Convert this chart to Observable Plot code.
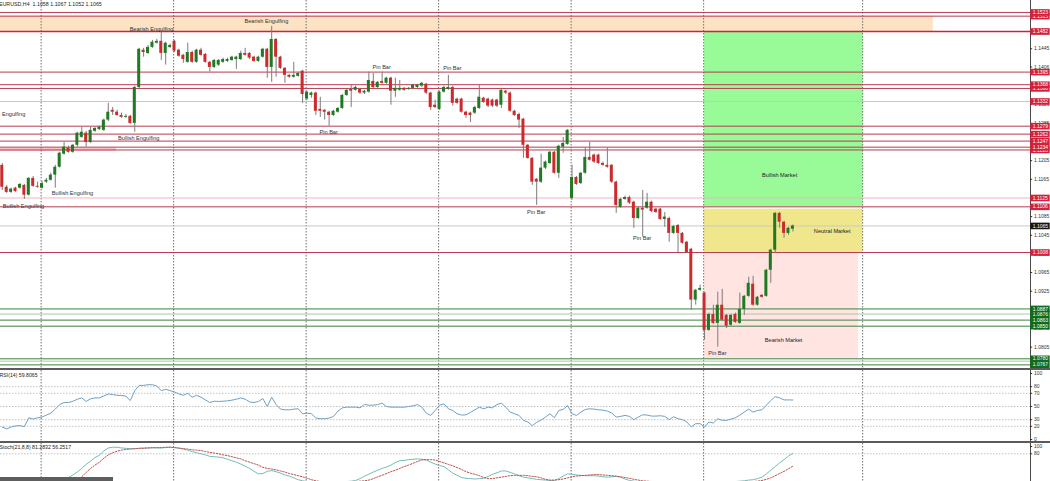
<!DOCTYPE html>
<html><head><meta charset="utf-8">
<script src="https://cdn.jsdelivr.net/npm/d3@7"></script>
<script src="https://cdn.jsdelivr.net/npm/@observablehq/plot@0.6"></script>
<style>
html,body{margin:0;padding:0;background:#fff;overflow:hidden}
#wrap{position:relative;width:1050px;height:481px;overflow:hidden;background:#fff}
.sep{height:2px;width:1050px;background:#5a5a5a}
svg{display:block;overflow:hidden}
#tab{position:absolute;left:0;top:477px;width:113px;height:4px;background:#5e5e5e}
</style></head><body><div id="wrap"></div>
<script>
// ---------- candle data (EURUSD H4) ----------
const openP = [
1.1195,1.1148,1.1137,1.1146,1.1146,1.1152,1.1131,1.1167,1.1150,1.1146,
1.1159,1.1163,1.1174,1.1191,1.1219,1.1232,1.1223,1.1238,1.1255,1.1264,
1.1244,1.1268,1.1272,1.1270,1.1292,1.1313,1.1309,1.1302,1.1298,1.1300,
1.1285,1.1362,1.1442,1.1435,1.1448,1.1457,1.1461,1.1435,1.1448,1.1461,
1.1442,1.1431,1.1416,1.1437,1.1416,1.1442,1.1433,1.1416,1.1405,1.1410,
1.1416,1.1418,1.1420,1.1422,1.1422,1.1435,1.1435,1.1427,1.1418,1.1427,
1.1444,1.1405,1.1465,1.1427,1.1403,1.1388,1.1384,1.1386,1.1397,1.1337,
1.1345,1.1350,1.1315,1.1313,1.1309,1.1302,1.1309,1.1317,1.1345,1.1358,
1.1356,1.1358,1.1350,1.1352,1.1375,1.1362,1.1375,1.1371,1.1382,1.1354,
1.1356,1.1360,1.1358,1.1360,1.1362,1.1365,1.1369,1.1350,1.1324,1.1315,
1.1352,1.1358,1.1362,1.1337,1.1337,1.1309,1.1307,1.1307,1.1317,1.1339,
1.1337,1.1335,1.1335,1.1324,1.1354,1.1350,1.1311,1.1304,1.1294,1.1238,
1.1210,1.1165,1.1159,1.1189,1.1199,1.1223,1.1178,1.1234,1.1240,1.1124,
1.1169,1.1156,1.1178,1.1212,1.1217,1.1217,1.1199,1.1195,1.1195,1.1159,
1.1105,1.1122,1.1126,1.1116,1.1081,1.1103,1.1103,1.1116,1.1101,1.1101,
1.1079,1.1081,1.1049,1.1066,1.1049,1.1030,1.1015,1.0906,1.0927,1.0921,
1.0841,1.0875,1.0856,1.0895,1.0873,1.0852,1.0875,1.0856,1.0886,1.0914,
1.0940,1.0895,1.0916,1.0914,1.0970,1.1013,1.1092,1.1073,1.1049,1.1058];
const highP = [
1.1199,1.1152,1.1146,1.1148,1.1156,1.1154,1.1169,1.1171,1.1159,1.1161,
1.1167,1.1178,1.1195,1.1223,1.1244,1.1236,1.1240,1.1266,1.1277,1.1268,
1.1277,1.1277,1.1279,1.1294,1.1328,1.1319,1.1313,1.1307,1.1304,1.1302,
1.1365,1.1446,1.1446,1.1452,1.1463,1.1465,1.1480,1.1459,1.1455,1.1463,
1.1444,1.1433,1.1457,1.1440,1.1444,1.1446,1.1435,1.1418,1.1422,1.1422,
1.1425,1.1425,1.1429,1.1429,1.1440,1.1446,1.1437,1.1429,1.1429,1.1446,
1.1446,1.1493,1.1467,1.1429,1.1405,1.1390,1.1416,1.1395,1.1399,1.1354,
1.1352,1.1352,1.1341,1.1315,1.1311,1.1313,1.1319,1.1347,1.1358,1.1367,
1.1365,1.1360,1.1356,1.1395,1.1392,1.1375,1.1395,1.1384,1.1384,1.1382,
1.1377,1.1362,1.1362,1.1369,1.1369,1.1373,1.1371,1.1352,1.1335,1.1354,
1.1365,1.1388,1.1365,1.1339,1.1339,1.1311,1.1309,1.1322,1.1367,1.1341,
1.1339,1.1337,1.1337,1.1358,1.1356,1.1352,1.1313,1.1307,1.1296,1.1240,
1.1212,1.1167,1.1219,1.1204,1.1225,1.1225,1.1238,1.1255,1.1272,1.1195,
1.1171,1.1180,1.1232,1.1244,1.1219,1.1219,1.1202,1.1232,1.1197,1.1161,
1.1124,1.1129,1.1129,1.1118,1.1105,1.1141,1.1135,1.1118,1.1103,1.1103,
1.1094,1.1084,1.1066,1.1068,1.1051,1.1032,1.1017,1.0929,1.0938,1.0923,
1.0878,1.0895,1.0923,1.0929,1.0875,1.0875,1.0878,1.0921,1.0916,1.0955,
1.0957,1.0914,1.0918,1.0972,1.1015,1.1094,1.1094,1.1075,1.1062,1.1067];
const lowP = [
1.1141,1.1135,1.1135,1.1137,1.1144,1.1122,1.1129,1.1148,1.1146,1.1144,
1.1156,1.1161,1.1146,1.1189,1.1217,1.1221,1.1221,1.1234,1.1253,1.1234,
1.1242,1.1266,1.1270,1.1268,1.1289,1.1302,1.1300,1.1296,1.1296,1.1283,
1.1266,1.1360,1.1427,1.1433,1.1446,1.1455,1.1420,1.1410,1.1446,1.1437,
1.1427,1.1414,1.1414,1.1414,1.1414,1.1429,1.1414,1.1395,1.1403,1.1407,
1.1414,1.1416,1.1418,1.1401,1.1420,1.1429,1.1422,1.1416,1.1416,1.1425,
1.1382,1.1373,1.1384,1.1401,1.1371,1.1382,1.1382,1.1384,1.1328,1.1335,
1.1339,1.1302,1.1298,1.1292,1.1279,1.1300,1.1307,1.1315,1.1343,1.1319,
1.1354,1.1347,1.1347,1.1350,1.1360,1.1360,1.1369,1.1369,1.1324,1.1341,
1.1354,1.1354,1.1356,1.1358,1.1360,1.1362,1.1347,1.1313,1.1317,1.1313,
1.1350,1.1356,1.1322,1.1326,1.1307,1.1296,1.1287,1.1304,1.1315,1.1328,
1.1319,1.1319,1.1319,1.1317,1.1347,1.1309,1.1300,1.1274,1.1210,1.1208,
1.1152,1.1109,1.1156,1.1186,1.1197,1.1176,1.1167,1.1221,1.1238,1.1120,
1.1152,1.1154,1.1176,1.1204,1.1199,1.1197,1.1193,1.1189,1.1156,1.1092,
1.1103,1.1120,1.1111,1.1060,1.1079,1.1041,1.1101,1.1094,1.1092,1.1077,
1.1062,1.1030,1.1047,1.1008,1.1026,1.1006,1.0884,1.0895,1.0925,1.0820,
1.0839,1.0854,1.0805,1.0860,1.0845,1.0850,1.0856,1.0854,1.0873,1.0912,
1.0893,1.0893,1.0910,1.0912,1.0942,1.1006,1.1060,1.1039,1.1045,1.1052];
const closeP = [
1.1148,1.1137,1.1144,1.1139,1.1154,1.1131,1.1167,1.1150,1.1148,1.1156,
1.1163,1.1174,1.1191,1.1221,1.1234,1.1223,1.1238,1.1264,1.1266,1.1244,
1.1270,1.1274,1.1277,1.1292,1.1309,1.1309,1.1302,1.1298,1.1300,1.1285,
1.1362,1.1444,1.1437,1.1448,1.1459,1.1461,1.1435,1.1457,1.1452,1.1440,
1.1429,1.1422,1.1437,1.1416,1.1442,1.1431,1.1416,1.1405,1.1420,1.1420,
1.1422,1.1422,1.1427,1.1427,1.1435,1.1431,1.1425,1.1418,1.1427,1.1444,
1.1405,1.1465,1.1427,1.1403,1.1388,1.1384,1.1388,1.1392,1.1347,1.1352,
1.1350,1.1311,1.1311,1.1309,1.1302,1.1311,1.1317,1.1345,1.1356,1.1354,
1.1362,1.1350,1.1354,1.1377,1.1362,1.1373,1.1371,1.1382,1.1354,1.1360,
1.1360,1.1356,1.1360,1.1367,1.1367,1.1371,1.1350,1.1319,1.1319,1.1352,
1.1362,1.1362,1.1328,1.1328,1.1309,1.1302,1.1302,1.1319,1.1341,1.1330,
1.1322,1.1322,1.1322,1.1356,1.1350,1.1311,1.1302,1.1292,1.1238,1.1210,
1.1159,1.1159,1.1189,1.1202,1.1223,1.1178,1.1236,1.1242,1.1270,1.1169,
1.1154,1.1178,1.1212,1.1206,1.1202,1.1199,1.1195,1.1191,1.1159,1.1109,
1.1122,1.1126,1.1114,1.1081,1.1103,1.1099,1.1116,1.1096,1.1094,1.1079,
1.1084,1.1049,1.1064,1.1049,1.1028,1.1008,1.0906,1.0927,1.0931,1.0841,
1.0875,1.0856,1.0895,1.0863,1.0850,1.0873,1.0858,1.0886,1.0914,1.0942,
1.0895,1.0912,1.0912,1.0970,1.1013,1.1092,1.1073,1.1049,1.1060,1.1065];

// ---------- indicators ----------
const rsi14 = [
19,16,19,20.6,21,19.6,33,31,33,34,
37,40,46,53,56,56,58,61,63,57.6,
61.6,63,63,66,69,68,67,66.7,65.6,59,
74,82,82,83,83,81,74,76,74,72,
69,67,70,64,67,64,60,56,58,57.6,
58,58.6,59.6,61,63,61,57,56,57.6,62,
50,64,53,46,45,45,46,46.5,39,40,
39,32.5,31.5,31.5,32.5,35,43,48,49,49,
49,48,53,52,52,53,55,50,49,49,
49,49,50,51,53,49,40,36.5,44,52,
54,46.5,44,39,37,37.5,41,45,49,46.5,
49,48,53,55,49,41.5,39,36.5,29,26.5,
21,26,29.5,34,39,33,44,45.5,51.5,39,
36.5,41.5,45.5,46.5,46,45,44.5,43,40,34,
35,36.5,35,30,34,37.5,37,35.5,35.5,36,
35,30,34.5,31.5,30,26.5,19,24,24,19,
26.5,25,31.5,29,29,31,33,37,41.5,46,
41.5,44,45,52,59,65,63,60,60,59.8065];
const stochK = [
2,1,2,1,3,2,5,4,3,4,
5,6,9,8,13,15,22,30,40,51,
60,70,76,88,96,98,98,96,95,94,
94,95,96,96,96,96,96,97,98,97,
95,93,90,86,83,80,77,73,72,71,
69,65,61,57,52,46,40,32,25,26,
32,34,31,27,22,19,14,9,6,4,
3,2,1,1,2,3,2,3,4,5,
7,12,19,24,30,35,40,44,49,56,
61,62,64,65,66,65,63,57,52,48,
45,36,27,21,15,13,12,11,12,13,
18,24,28,33,33,29,25,20,16,14,
12,10,9,8,7,7,12,19,25,24,
22,21,20,20,20,19,17,16,17,18,
16,11,7,5,3,2,2,1,2,3,
2,1,1,0,0,0,0,0,1,0,
1,2,2,3,3,4,4,5,6,8,
9,12,16,25,35,45,55,64,74,81.2832];
const stochD = [
3,3,2,2,2,2,3,3,3,3,
4,4,5,5,6,6,6,7,17,29,
40,49,57,68,77,83,87,90,92,93,
94,95,95,96,97,97,97,98,98,97,
96,94,93,91,90,89,86,84,82,80,
77,75,72,69,66,61,57,53,49,43,
40,38,36,33,30,26,23,20,17,13,
9,6,4,3,3,2,2,3,3,4,
4,5,6,8,12,17,21,26,31,35,
40,45,49,54,59,63,64,64,63,59,
55,51,47,42,37,31,27,24,20,15,
12,12,14,16,18,20,21,21,21,20,
18,17,14,10,8,8,9,11,14,17,
19,20,21,22,23,23,22,21,20,19,
17,15,13,10,8,6,5,4,3,3,
2,2,2,1,1,1,1,1,1,1,
1,1,1,1,2,2,2,2,3,3,
4,5,7,10,14,20,26,32,39,46];

// ---------- levels, zones, labels ----------
const strongRes = [1.1482];
const resLevels = [1.1523, 1.1515, 1.1395, 1.1368, 1.1360, 1.1279, 1.1262, 1.1247, 1.1234, 1.1228, 1.1106, 1.1008];
const faintRes = [1.1332, 1.1125];
const supLevels = [1.0887, 1.0863, 1.0850, 1.0780, 1.0767];
const faintSup = [1.0876, 1.0775];
const greenTags = [1.0767, 1.0780, 1.0850, 1.0863, 1.0876, 1.0887];
const lastPrice = 1.1065;
const priceTicks = [1.0805, 1.0845, 1.0885, 1.0925, 1.0965, 1.1005, 1.1045, 1.1085, 1.1125, 1.1165, 1.1205, 1.1245, 1.1285, 1.1326, 1.1366, 1.1406, 1.1445, 1.1485];
const gridBars = [8.8, 38.8, 68.8, 98.8, 128.8, 158.8, 194.8];

const zoneNames = ["supply", "bullish", "neutral", "bearish", "strip"];
const zoneFromBar = [-0.4, 159, 159, 159, -0.4];
const zoneToBar = [210.8, 194.9, 194.9, 193.9, 25.9];
const zoneLow = [1.1482, 1.1106, 1.1008, 1.0780, 1.1225];
const zoneHigh = [1.1515, 1.1482, 1.1101, 1.1008, 1.1232];

const patternText = ["Bearish Engulfing", "Bearish Engulfing", "Bullish Engulfing", "Bullish Engulfing", "Bullish Engulfing",
  "Pin Bar", "Pin Bar", "Pin Bar", "Pin Bar", "Pin Bar", "Pin Bar"];
const patternBar = [33.8, 59.8, 30.9, 15.9, 4.8, 73.9, 85.9, 101.9, 120.9, 144.9, 161.9];
const patternPrice = [1.1487, 1.1504, 1.1253, 1.1135, 1.1107, 1.1266, 1.1405, 1.1403, 1.1094, 1.1039, 1.0792];
const edgeText = ["Engulfing"];
const edgePrice = [1.1304];

const marketText = ["Bullish Market", "Neutral Market", "Bearish Market"];
const marketBar = [176.0, 187.9, 176.9];
const marketPrice = [1.1174, 1.1053, 1.0820];

const rsiLevels = [20, 30, 50, 70, 80];
const rsiTicks = [0, 20, 30, 50, 70, 80, 100];
const stochLevels = [80];
const stochTicks = [80, 100];

const titleMain = "EURUSD,H4  1.1058 1.1067 1.1052 1.1065";
const titleRsi = "RSI(14) 59.8065";
const titleStoch = "Stoch(21,8,8) 81.2832 56.2517";

// ---------- drawing ----------
const FONT = "'Liberation Sans', Arial, Helvetica, sans-serif";
const xDom = [-0.4, 232.8];
const xEnd = xDom[1];
const zoneColor = {supply: "#fde3c4", bullish: "#98fb98", neutral: "#f0e68c", bearish: "#ffe4e1", strip: "#f7c6cb"};
const BULL = "#1f7a24", BEAR = "#cc2b2e", WICK = "#7b7b7b";

const bars = d3.range(closeP.length).map(i => ({i, o: openP[i], h: highP[i], l: lowP[i], c: closeP[i]}));
const bulls = bars.filter(d => d.c >= d.o);
const bears = bars.filter(d => d.c < d.o);

const gridMark = () => Plot.ruleX(gridBars, {x: d => d, stroke: "#6f6f6f", strokeWidth: 1, strokeDasharray: "1.5,1.5"});
const axisLine = () => Plot.ruleX([xEnd], {x: d => d, stroke: "#4a4a4a", strokeWidth: 1});

function tagMarks(values, color) {
  return values.flatMap(v => [
    Plot.ruleY([v], {y: d => d, x1: () => xEnd + 0.05, x2: () => xEnd + 4.45, stroke: color, strokeWidth: 6.6}),
    Plot.text([v], {x: () => xEnd, y: d => d, text: d => d.toFixed(4), textAnchor: "start", dx: 2.3, fill: "#ffffff", fontSize: 5})
  ]);
}
const redTags = [...resLevels, ...strongRes, ...faintRes].sort((a, b) => a - b);

const mainMarks = [
  ...zoneNames.map((n, k) => Plot.rect([k], {x1: () => zoneFromBar[k], x2: () => zoneToBar[k], y1: () => zoneLow[k], y2: () => zoneHigh[k], fill: zoneColor[n]})),
  gridMark(),
  Plot.ruleY(faintRes, {y: d => d, stroke: "#ebb7bf", strokeWidth: 1}),
  Plot.ruleY(resLevels, {y: d => d, stroke: "#b83a50", strokeWidth: 1}),
  Plot.ruleY(strongRes, {y: d => d, stroke: "#d21f3c", strokeWidth: 1.5}),
  Plot.ruleY(faintSup, {y: d => d, stroke: "#a9c8a9", strokeWidth: 1}),
  Plot.ruleY(supLevels, {y: d => d, stroke: "#3f7f41", strokeWidth: 1}),
  Plot.ruleY([lastPrice], {y: d => d, stroke: "#c9c9c9", strokeWidth: 1}),
  Plot.ruleX(bars, {x: "i", y1: "l", y2: "h", stroke: WICK, strokeWidth: 1}),
  Plot.rect(bulls, {x1: d => d.i - 0.34, x2: d => d.i + 0.34, y1: "o", y2: "c", fill: BULL}),
  Plot.rect(bears, {x1: d => d.i - 0.34, x2: d => d.i + 0.34, y1: "o", y2: "c", fill: BEAR}),
  Plot.text(patternText, {x: (d, i) => patternBar[i], y: (d, i) => patternPrice[i], text: d => d, fill: "#333", fontSize: 5.6}),
  Plot.text(edgeText, {x: () => xDom[0], y: (d, i) => edgePrice[i], text: d => d, textAnchor: "start", dx: 1.5, fill: "#333", fontSize: 5.6}),
  Plot.text(marketText, {x: (d, i) => marketBar[i], y: (d, i) => marketPrice[i], text: d => d, fill: "#222", fontSize: 5.6}),
  Plot.text([titleMain], {frameAnchor: "top-left", text: d => d, textAnchor: "start", lineAnchor: "top", dx: -1.5, dy: 1.5, fill: "#222", fontSize: 5.3}),
  axisLine(),
  Plot.ruleY(priceTicks, {y: d => d, x1: () => xEnd, x2: () => xEnd + 0.5, stroke: "#333"}),
  Plot.text(priceTicks, {x: () => xEnd, y: d => d, text: d => d.toFixed(4), textAnchor: "start", dx: 3.5, fill: "#333", fontSize: 5}),
  ...tagMarks(greenTags, "#0e6c1e"),
  ...tagMarks([lastPrice], "#151515"),
  ...tagMarks(redTags, "#d4203e")
];

const common = {width: 1050, margin: 0, marginRight: 20,
  style: {fontFamily: FONT, fontSize: "5.5px", background: "#ffffff", overflow: "hidden"}};

const mainPlot = Plot.plot({...common, height: 368,
  x: {domain: xDom, axis: null},
  y: {domain: [1.07635, 1.15486], range: [366, 0], axis: null},
  marks: mainMarks});

const rsiPlot = Plot.plot({...common, height: 71,
  x: {domain: xDom, axis: null},
  y: {domain: [0, 100], range: [69, 3], axis: null},
  marks: [
    Plot.ruleY(rsiLevels, {y: d => d, stroke: "#c2c2c2", strokeDasharray: "1.5,1.5"}),
    gridMark(),
    Plot.line(rsi14, {x: (d, i) => i, y: d => d, stroke: "#6e9fc6", strokeWidth: 1}),
    Plot.text([titleRsi], {frameAnchor: "top-left", text: d => d, textAnchor: "start", lineAnchor: "top", dx: -1, dy: 3, fill: "#222", fontSize: 5.2}),
    axisLine(),
    Plot.ruleY(rsiTicks, {y: d => d, x1: () => xEnd, x2: () => xEnd + 0.5, stroke: "#333"}),
    Plot.text(rsiTicks, {x: () => xEnd, y: d => d, text: d => String(d), textAnchor: "start", dx: 3.5, fill: "#333", fontSize: 5})
  ]});

const stochPlot = Plot.plot({...common, height: 38,
  x: {domain: xDom, axis: null},
  y: {domain: [0, 100], range: [39.5, 3], axis: null},
  marks: [
    Plot.ruleY(stochLevels, {y: d => d, stroke: "#c2c2c2", strokeDasharray: "1.5,1.5"}),
    gridMark(),
    Plot.line(stochK, {x: (d, i) => i, y: d => d, stroke: "#72bdb8", strokeWidth: 1}),
    Plot.line(stochD, {x: (d, i) => i, y: d => d, stroke: "#c0504d", strokeWidth: 1, strokeDasharray: "1.5,1.5"}),
    Plot.text([titleStoch], {frameAnchor: "top-left", text: d => d, textAnchor: "start", lineAnchor: "top", dx: -1, dy: 1.5, fill: "#222", fontSize: 5.2}),
    axisLine(),
    Plot.ruleY(stochTicks, {y: d => d, x1: () => xEnd, x2: () => xEnd + 0.5, stroke: "#333"}),
    Plot.text(stochTicks, {x: () => xEnd, y: d => d, text: d => String(d), textAnchor: "start", dx: 3.5, fill: "#333", fontSize: 5})
  ]});

const wrap = document.getElementById("wrap");
const sep = () => { const s = document.createElement("div"); s.className = "sep"; return s; };
wrap.append(mainPlot, sep(), rsiPlot, sep(), stochPlot);
const tab = document.createElement("div"); tab.id = "tab"; wrap.append(tab);
</script>
</body></html>
